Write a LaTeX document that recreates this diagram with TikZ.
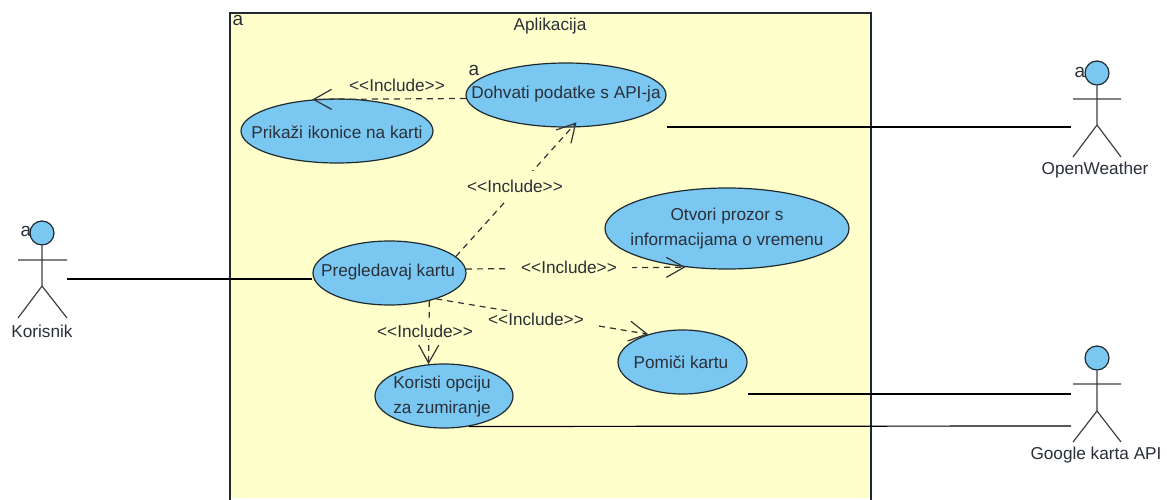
\documentclass[tikz,border=0pt]{standalone}
\usepackage{fontspec}
\setmainfont{Liberation Sans}
\usetikzlibrary{arrows.meta,shapes.geometric}
\definecolor{frameyellow}{HTML}{FFFFCC}
\definecolor{caseblue}{HTML}{7AC8F2}
\definecolor{inktext}{HTML}{2A2F38}
\definecolor{inkline}{HTML}{1E2A30}
\newcommand{\inclabel}{{<}{<}Include{>}{>}}
\tikzset{
  usecase/.style={draw=inkline,line width=1.2pt,fill=caseblue,ellipse,inner sep=0pt},
  casetext/.style={inner sep=0pt,align=center,text=inktext,font=\fontsize{17.2}{25}\selectfont},
  headcircle/.style={draw=inkline,line width=1.2pt,fill=caseblue,circle,inner sep=0pt,minimum size=24pt},
  stick/.style={draw=black!75,line width=1.2pt},
  assoc/.style={draw=black,line width=1.2pt},
  include/.style={draw=black!80,line width=1.2pt,dash pattern=on 6pt off 5pt,-{Straight Barb[length=18pt,width=20pt]}},
  includelabel/.style={fill=frameyellow,inner xsep=15pt,inner ysep=2pt,text=inktext,font=\fontsize{17.2}{18}\selectfont},
  plaintext/.style={inner sep=0pt,text=inktext,font=\fontsize{17.2}{18}\selectfont},
  marka/.style={inner sep=0pt,text=inktext,font=\fontsize{19}{19}\selectfont}
}
\begin{document}
\begin{tikzpicture}[x=1pt,y=-1pt]
\useasboundingbox (0,0) rectangle (1167,500);
\fill[white] (0,0) rectangle (1167,500);
% system frame
\fill[frameyellow] (230,13) rectangle (871,498);
\draw[draw=inkline,line width=1.4pt] (230,500) -- (230,13) -- (871,13) -- (871,500);
\node[plaintext] (title) at (550,26) {Aplikacija};
\node[marka] (framea) at (238,20) {a};
% use cases
\node[usecase,minimum width=200pt,minimum height=64pt] (dohvati) at (566,95) {};
\node[casetext] (dohvatit) at (566,94) {Dohvati podatke s API-ja};
\node[usecase,minimum width=192pt,minimum height=64pt] (prikazi) at (337,131) {};
\node[casetext] (prikazit) at (337,132) {Prikaži ikonice na karti};
\node[usecase,minimum width=153pt,minimum height=64pt] (pregled) at (389.5,273) {};
\node[casetext] (pregledt) at (388,272) {Pregledavaj kartu};
\node[usecase,minimum width=244pt,minimum height=81pt] (otvori) at (727,228.5) {};
\node[casetext] (otvorit) at (727,229) {Otvori prozor s\\informacijama o vremenu};
\node[usecase,minimum width=129pt,minimum height=64pt] (pomici) at (682.5,362) {};
\node[casetext] (pomicit) at (681,362) {Pomiči kartu};
\node[usecase,minimum width=138pt,minimum height=64pt] (koristi) at (444,396) {};
\node[casetext] (koristit) at (442,397) {Koristi opciju\\za zumiranje};
\node[marka] (dohvatia) at (474,70) {a};
% actors
\node[headcircle] (korhead) at (42,233) {};
\coordinate (korhip) at (42,286);
\coordinate (korarml) at (18,260);
\coordinate (korarmr) at (67,260);
\coordinate (korlegl) at (18,318);
\coordinate (korlegr) at (67,318);
\draw[stick] (korhead) -- (korhip) (korarml) -- (korarmr) (korhip) -- (korlegl) (korhip) -- (korlegr);
\node[plaintext] (korlabel) at (42,331) {Korisnik};
\node[marka] (kora) at (26,231) {a};
\coordinate (korlink) at (67,279);

\node[headcircle] (owhead) at (1097,73) {};
\coordinate (owhip) at (1097,125);
\coordinate (owarml) at (1073,99);
\coordinate (owarmr) at (1121,99);
\coordinate (owlegl) at (1073,157);
\coordinate (owlegr) at (1121,157);
\draw[stick] (owhead) -- (owhip) (owarml) -- (owarmr) (owhip) -- (owlegl) (owhip) -- (owlegr);
\node[plaintext] (owlabel) at (1095,170) {OpenWeather};
\node[marka] (owa) at (1080,72) {a};
\coordinate (owlink) at (1071,127);

\node[headcircle] (gohead) at (1097,358) {};
\coordinate (gohip) at (1097,411);
\coordinate (goarml) at (1073,384);
\coordinate (goarmr) at (1121,384);
\coordinate (golegl) at (1073,442);
\coordinate (golegr) at (1121,442);
\draw[stick] (gohead) -- (gohip) (goarml) -- (goarmr) (gohip) -- (golegl) (gohip) -- (golegr);
\node[plaintext] (golabel) at (1096,455) {Google karta API};
\coordinate (golinka) at (1071,394);
\coordinate (golinkb) at (1071,426);
% associations
\draw[assoc] (korlink) -- (pregled.west |- korlink);
\draw[assoc] (dohvati.east |- owlink) -- (owlink);
\draw[assoc] (pomici.east |- golinka) -- (golinka);
\draw[assoc] (koristi.-51) -- (golinkb);
% includes
\draw[include] (dohvati.182.3) -- (prikazi.128);
\draw[include,shorten >=-7pt] (pregled.14.4) -- (dohvati.-80);
\draw[include] (pregled.3.7) -- (otvori.223);
\draw[include] (pregled.-29.9) -- (pomici.141.7);
\draw[include] (pregled.-35.7) -- (koristi.116.6);
% include labels
\node[includelabel,inner xsep=0pt] (inca) at (397,85) {\inclabel};
\node[includelabel,inner ysep=9pt] (incb) at (515,186) {\inclabel};
\node[includelabel] (incc) at (569,267) {\inclabel};
\node[includelabel] (incd) at (536,319) {\inclabel};
\node[includelabel] (ince) at (425,331) {\inclabel};
\end{tikzpicture}
\end{document}
